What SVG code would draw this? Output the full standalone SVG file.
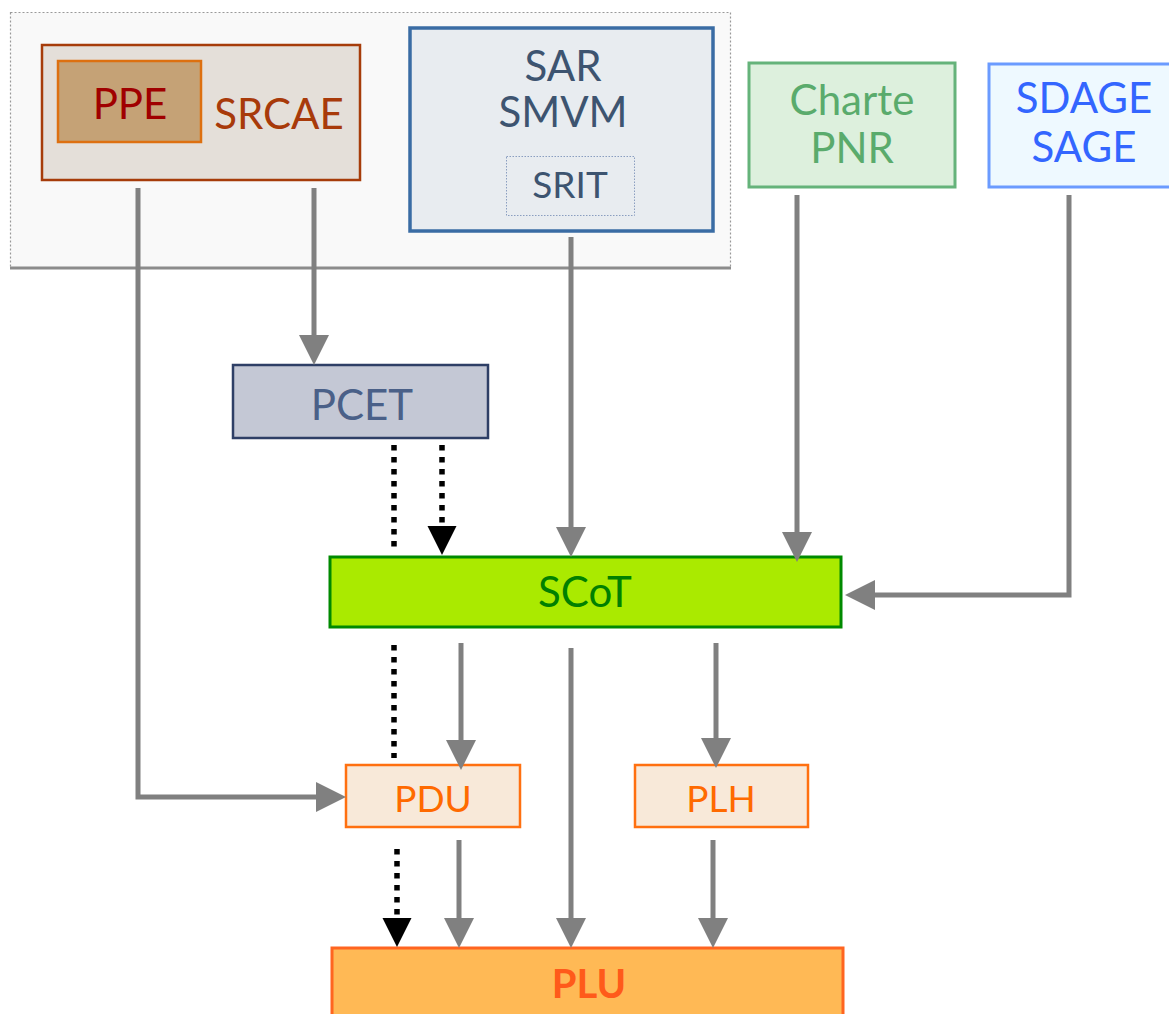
<svg xmlns="http://www.w3.org/2000/svg" width="1169" height="1014" viewBox="0 0 1169 1014">
<style>
text{font-family:Lato,"Open Sans","Liberation Sans",sans-serif;text-anchor:middle;font-size:42px}
.c{fill:none;stroke:#808080;stroke-width:5}
.d{fill:none;stroke:#000;stroke-width:5.5;stroke-dasharray:5.5 6.5}
</style>
<defs>
<marker id="ga" markerUnits="userSpaceOnUse" markerWidth="32" markerHeight="32" refX="4" refY="15" orient="auto" viewBox="0 0 32 32"><path d="M0,0 L30,15 L0,30 z" fill="#808080"/></marker>
<marker id="ba" markerUnits="userSpaceOnUse" markerWidth="32" markerHeight="32" refX="4" refY="14.5" orient="auto" viewBox="0 0 32 32"><path d="M0,0 L29,14.5 L0,29 z" fill="#000"/></marker>
</defs>
<rect width="1169" height="1014" fill="#fff"/>
<g id="region">
<rect x="10.5" y="12.5" width="720" height="255" fill="#f9f9f9" stroke="#999" stroke-width="1.2" stroke-dasharray="2 2"/>
<line x1="10" y1="268" x2="731" y2="268" stroke="#8c8c8c" stroke-width="3"/>
</g>
<g id="srcae">
<rect x="42" y="45" width="318" height="135" fill="#e4dfd9" stroke="#a63c0a" stroke-width="2.5"/>
<text x="279" y="129" fill="#a83a0a">SRCAE</text>
</g>
<g id="ppe">
<rect x="58" y="61" width="143" height="81" fill="#c5a276" stroke="#dd7010" stroke-width="2.5"/>
<text x="130" y="119" fill="#a00000">PPE</text>
</g>
<g id="sar">
<rect x="410" y="28" width="303" height="203" fill="#e8ecf0" stroke="#3a6ca4" stroke-width="3.5"/>
<text x="563" y="81" fill="#3d5470">SAR</text>
<text x="563" y="127" fill="#3d5470">SMVM</text>
</g>
<g id="srit">
<rect x="506.5" y="156.5" width="128" height="59" fill="#e8ecf0" stroke="#8a9ec0" stroke-width="1" stroke-dasharray="1.5 1.5"/>
<text x="570" y="198" fill="#3d5470" style="font-size:37px">SRIT</text>
</g>
<g id="charte">
<rect x="749" y="63" width="206" height="124" fill="#ddf0dd" stroke="#65b37a" stroke-width="3"/>
<text x="852" y="115" fill="#5aab6c">Charte</text>
<text x="852" y="163" fill="#5aab6c">PNR</text>
</g>
<g id="sdage">
<rect x="989" y="64" width="190" height="123" fill="#eef9ff" stroke="#6b9bff" stroke-width="3"/>
<text x="1084" y="113" fill="#3366ff">SDAGE</text>
<text x="1084" y="162" fill="#3366ff">SAGE</text>
</g>
<g id="pcet">
<rect x="233" y="365" width="255" height="73" fill="#c4c8d5" stroke="#2e3f66" stroke-width="2.5"/>
<text x="362" y="420" fill="#4a6088">PCET</text>
</g>
<g id="scot">
<rect x="330" y="557" width="511" height="70" fill="#aaea00" stroke="#008a00" stroke-width="3"/>
<text x="585" y="607" fill="#008000">SCoT</text>
</g>
<g id="pdu">
<rect x="346" y="765" width="174" height="62" fill="#f8e9d9" stroke="#ff7010" stroke-width="2.5"/>
<text x="433" y="812" fill="#ff6a00" style="font-size:37px">PDU</text>
</g>
<g id="plh">
<rect x="635" y="765" width="173" height="62" fill="#f8e9d9" stroke="#ff7010" stroke-width="2.5"/>
<text x="721" y="812" fill="#ff6a00" style="font-size:37px">PLH</text>
</g>
<g id="plu">
<rect x="332" y="948" width="511" height="80" fill="#ffb955" stroke="#ff6520" stroke-width="3"/>
<text x="589" y="998" fill="#ff5a1a" style="font-weight:bold;font-size:40px">PLU</text>
</g>
<g id="connectors">
<path class="c" d="M138,188 V797 H320" marker-end="url(#ga)"/>
<path class="c" d="M314,188 V339" marker-end="url(#ga)"/>
<path class="c" d="M571,237 V531" marker-end="url(#ga)"/>
<path class="c" d="M797,195 V536" marker-end="url(#ga)"/>
<path class="c" d="M1069,195 V595 H871" marker-end="url(#ga)"/>
<path class="c" d="M461,643 V744" marker-end="url(#ga)"/>
<path class="c" d="M571,648 V922" marker-end="url(#ga)"/>
<path class="c" d="M716,643 V742" marker-end="url(#ga)"/>
<path class="c" d="M459,840 V922" marker-end="url(#ga)"/>
<path class="c" d="M713,840 V922" marker-end="url(#ga)"/>
<path class="d" d="M394,445 V548"/>
<path class="d" d="M442,445 V530" marker-end="url(#ba)"/>
<path class="d" d="M394,645 V758"/>
<path class="d" d="M397,849 V922" marker-end="url(#ba)"/>
</g>
</svg>
